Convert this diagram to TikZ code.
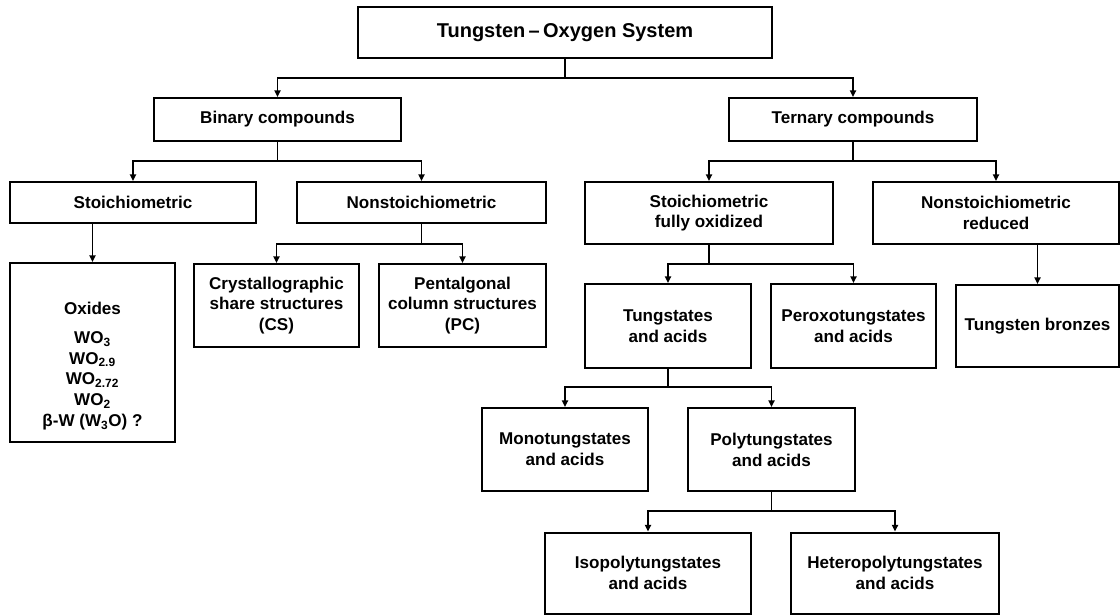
\documentclass[tikz,border=0pt]{standalone}
\usepackage{fontspec}
\setmainfont{Liberation Sans}
\usetikzlibrary{arrows.meta}
\begin{document}
\begin{tikzpicture}[x=0.75pt,y=-0.75pt,
  txt/.style={align=center, font=\fontsize{12.8}{15.6}\selectfont\bfseries},
  box/.style={draw, line width=1.5pt, rectangle, inner sep=2pt, txt},
  sz/.style 2 args={minimum width=#1*0.75pt, minimum height=#2*0.75pt},
  conn/.style={line width=1.4pt},
  arr/.style={line width=1.4pt, -{Triangle[length=5pt,width=4.6pt]}}
  ]
\useasboundingbox (0,0) rectangle (1120,615);
\fill[white] (0,0) rectangle (1120,615);

% nodes
\node[box, sz={414}{51}, font=\fontsize{15}{18}\selectfont\bfseries] (title) at (565,32.5) {Tungsten\,–\,Oxygen System};
\node[box, sz={247}{43}] (bin) at (277.5,119.5) {Binary compounds};
\node[box, sz={248}{43}] (ter) at (853,119.5) {Ternary compounds};
\node[box, sz={246}{41}] (sto) at (133,202.5) {Stoichiometric};
\node[box, sz={249}{41}] (nst) at (421.5,202.5) {Nonstoichiometric};
\node[box, sz={248}{62}] (sfo) at (709,213) {Stoichiometric\\fully oxidized};
\node[box, sz={246}{62}] (nsr) at (996,213) {Nonstoichiometric\\reduced};
\node[box, sz={165}{179}] (oxd) at (92.5,352.5) {};
\node[txt] (oxdt) at (92.5,366) {Oxides\\[6pt]WO\textsubscript{3}\\WO\textsubscript{2.9}\\WO\textsubscript{2.72}\\WO\textsubscript{2}\\β-W (W\textsubscript{3}O) ?};
\node[box, sz={165}{83}] (cry) at (276.5,305.5) {Crystallographic\\share structures\\(CS)};
\node[box, sz={167}{83}] (pen) at (462.5,305.5) {Pentalgonal\\column structures\\(PC)};
\node[box, sz={166}{84}] (tun) at (668,326) {Tungstates\\and acids};
\node[box, sz={165}{84}] (per) at (853.5,326) {Peroxotungstates\\and acids};
\node[box, sz={163}{82}] (bro) at (1037.5,326) {Tungsten bronzes};
\node[box, sz={166}{83}] (mon) at (565,449.5) {Monotungstates\\and acids};
\node[box, sz={167}{83}] (pol) at (771.5,449.5) {Polytungstates\\and acids};
\node[box, sz={206}{81}] (iso) at (648,573) {Isopolytungstates\\and acids};
\node[box, sz={208}{81}] (het) at (895,573) {Heteropolytungstates\\and acids};

% junction levels
\coordinate (j0) at (0,78);
\coordinate (j1) at (0,161);
\coordinate (j2) at (0,244);
\coordinate (j3) at (0,264);
\coordinate (j4) at (0,387);
\coordinate (j5) at (0,511);

% connectors
\draw[conn] (title.south) -- (title.south |- j0);
\draw[arr] (title.south |- j0) -| (bin.north);
\draw[arr] (title.south |- j0) -| (ter.north);

\draw[conn] (bin.south) -- (bin.south |- j1);
\draw[arr] (bin.south |- j1) -| (sto.north);
\draw[arr] (bin.south |- j1) -| (nst.north);

\draw[conn] (ter.south) -- (ter.south |- j1);
\draw[arr] (ter.south |- j1) -| (sfo.north);
\draw[arr] (ter.south |- j1) -| (nsr.north);

\draw[arr] (oxd.north |- sto.south) -- (oxd.north);

\draw[conn] (nst.south) -- (nst.south |- j2);
\draw[arr] (nst.south |- j2) -| (cry.north);
\draw[arr] (nst.south |- j2) -| (pen.north);

\draw[conn] (sfo.south) -- (sfo.south |- j3);
\draw[arr] (sfo.south |- j3) -| (tun.north);
\draw[arr] (sfo.south |- j3) -| (per.north);

\draw[arr] (bro.north |- nsr.south) -- (bro.north);

\draw[conn] (tun.south) -- (tun.south |- j4);
\draw[arr] (tun.south |- j4) -| (mon.north);
\draw[arr] (tun.south |- j4) -| (pol.north);

\draw[conn] (pol.south) -- (pol.south |- j5);
\draw[arr] (pol.south |- j5) -| (iso.north);
\draw[arr] (pol.south |- j5) -| (het.north);
\end{tikzpicture}
\end{document}
